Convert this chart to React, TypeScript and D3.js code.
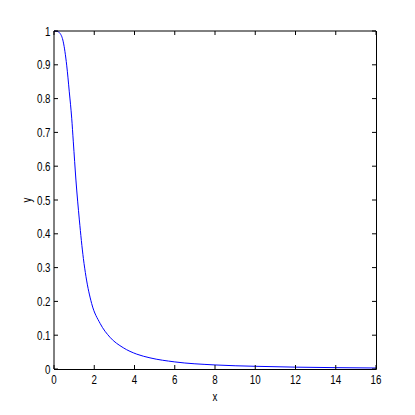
import React from "react";
import * as d3 from "d3";

const xValues = [0, 0.15, 0.3, 0.46, 0.63, 0.76, 0.88, 0.96, 1.09, 1.26, 1.46, 1.59, 1.87, 2.29, 2.78, 3.44, 4.11, 4.77, 6.0, 8.0, 10.0, 12.0, 14.0, 16.0];
const yValues = [1, 0.999, 0.993, 0.968, 0.899, 0.82, 0.742, 0.672, 0.559, 0.441, 0.327, 0.273, 0.194, 0.135, 0.094, 0.063, 0.044, 0.033, 0.021, 0.012, 0.008, 0.0055, 0.004, 0.003];
const xTicks = [0, 2, 4, 6, 8, 10, 12, 14, 16];
const yTicks = [0, 0.1, 0.2, 0.3, 0.4, 0.5, 0.6, 0.7, 0.8, 0.9, 1];
const xLabel = "x";
const yLabel = "y";

const W = 415, H = 415;
const L = 54, R = 376, T = 31, B = 369;
const font = "'Liberation Sans', Arial, sans-serif";
const FS = 12.5;
const SX = 0.78;

function Label({ x, y, anchor, children }: { x: number; y: number; anchor: string; children: React.ReactNode }) {
  return (
    <g transform={`translate(${x},${y}) scale(${SX},1)`}>
      <text x={0} y={0} textAnchor={anchor} fontFamily={font} fontSize={FS} fill="#000">{children}</text>
    </g>
  );
}

export default function App() {
  const x = d3.scaleLinear().domain([0, 16]).range([L, R]);
  const y = d3.scaleLinear().domain([0, 1]).range([B, T]);
  const pts: [number, number][] = xValues.map((v, i) => [v, yValues[i]]);
  const line = d3.line<[number, number]>().x(d => x(d[0])).y(d => y(d[1])).curve(d3.curveMonotoneX);
  const tl = 4;
  return (
    <svg width={W} height={H} style={{ position: "absolute", left: 0, top: 0, background: "#fff" }}>
      <rect x={0} y={0} width={W} height={H} fill="#fff" />
      <path d={line(pts) || ""} fill="none" stroke="#0000ff" strokeWidth={1} />
      <line x1={L} x2={R} y1={T} y2={T} stroke="#000" strokeWidth={1} />
      <line x1={L} x2={L} y1={T} y2={B} stroke="#000" strokeWidth={1} />
      <line x1={L} x2={R + 0.5} y1={B + 0.5} y2={B + 0.5} stroke="#000" strokeWidth={1} />
      <line x1={R + 0.5} x2={R + 0.5} y1={T} y2={B + 0.5} stroke="#000" strokeWidth={1} />
      {xTicks.map(t => (
        <g key={"x" + t}>
          <line x1={x(t)} x2={x(t)} y1={B} y2={B - tl} stroke="#000" />
          <line x1={x(t)} x2={x(t)} y1={T} y2={T + tl} stroke="#000" />
          <Label x={x(t)} y={384} anchor="middle">{t}</Label>
        </g>
      ))}
      {yTicks.map(t => (
        <g key={"y" + t}>
          <line x1={L} x2={L + tl} y1={y(t)} y2={y(t)} stroke="#000" />
          <line x1={R} x2={R - tl} y1={y(t)} y2={y(t)} stroke="#000" />
          <Label x={50.5} y={y(t) + 4.5} anchor="end">{t}</Label>
        </g>
      ))}
      <Label x={(L + R) / 2} y={401} anchor="middle">{xLabel}</Label>
      <g transform={`translate(31,${(T + B) / 2}) rotate(-90) scale(${SX},1)`}>
        <text x={0} y={0} textAnchor="middle" fontFamily={font} fontSize={FS} fill="#000">{yLabel}</text>
      </g>
    </svg>
  );
}
